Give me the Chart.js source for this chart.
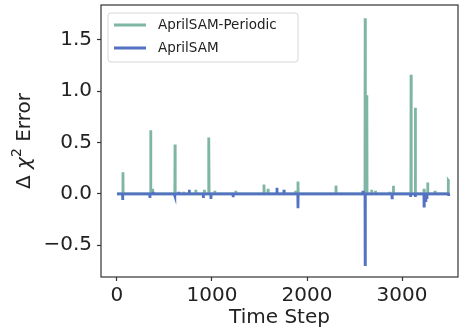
<!DOCTYPE html>
<html>
<head>
<meta charset="utf-8">
<script src="https://cdn.jsdelivr.net/npm/chart.js@4"></script>
<style>
  html, body { margin: 0; padding: 0; background: #fff; }
  #wrap { width: 459px; height: 335px; }
</style>
</head>
<body>
<div id="wrap"><canvas id="errorChart"></canvas></div>
<script>
// Delta chi^2 error per time step

// AprilSAM-Periodic (green) - one row per spike
const periodicSteps = [
  0,
  61, 63, 65,
  353, 355, 357,
  373, 375, 377,
  609, 611, 613,
  698, 700, 702,
  828, 830, 832,
  918, 920, 922,
  962, 964, 966, 968, 970,
  1028, 1030, 1032,
  1248, 1250, 1252,
  1545, 1547, 1549,
  1588, 1590, 1592,
  1878, 1880, 1882,
  1903, 1905, 1907,
  2303, 2305, 2307,
  2588, 2590, 2592,
  2610, 2612, 2614,
  2628, 2630, 2632,
  2678, 2680, 2682,
  2718, 2720, 2722,
  2868, 2870, 2872,
  2907, 2909, 2911,
  3093, 3095, 3097,
  3138, 3140, 3142,
  3230, 3232, 3234,
  3268, 3270, 3272,
  3345, 3347, 3349,
  3485, 3487, 3495
];
const periodicValues = [
  0,
  0, 0.21, 0,
  0, 0.62, 0,
  0, 0.05, 0,
  0, 0.48, 0,
  0, 0.02, 0,
  0, 0.04, 0,
  0, 0.04, 0,
  0, 0.28, 0, 0.55, 0,
  0, 0.03, 0,
  0, 0.03, 0,
  0, 0.09, 0,
  0, 0.05, 0,
  0, 0.03, 0,
  0, 0.12, 0,
  0, 0.08, 0,
  0, 0.02, 0,
  0, 1.71, 0,
  0, 0.96, 0,
  0, 0.04, 0,
  0, 0.03, 0,
  0, 0.02, 0,
  0, 0.08, 0,
  0, 1.16, 0,
  0, 0.84, 0,
  0, 0.05, 0,
  0, 0.11, 0,
  0, 0.03, 0,
  0, 0.13, 0.12
];

// AprilSAM (blue)
const aprilSteps = [
  0,
  58, 60, 62,
  78, 80, 82,
  345, 347, 349,
  378, 380, 382,
  598, 600, 602,
  608, 610, 612,
  648, 650, 652,
  759, 761, 763,
  907, 909, 911,
  987, 989, 991,
  1220, 1222, 1224,
  1682, 1684, 1686,
  1756, 1758, 1760,
  1903, 1905, 1907,
  2588, 2590, 2592,
  2610, 2612, 2614,
  2893, 2895, 2897,
  3088, 3090, 3092,
  3138, 3140, 3142,
  3230, 3232, 3234,
  3248, 3250, 3252,
  3260, 3262, 3264,
  3488, 3490, 3492,
  3495
];
const aprilValues = [
  0,
  0, -0.06, 0,
  0, 0.01, 0,
  0, -0.04, 0,
  0, 0.02, 0,
  0, 0.01, 0,
  0, -0.02, 0,
  0, 0.02, 0,
  0, 0.04, 0,
  0, -0.04, 0,
  0, -0.05, 0,
  0, -0.02, 0,
  0, 0.06, 0,
  0, 0.04, 0,
  0, -0.14, 0,
  0, 0.03, 0,
  0, -0.69, 0,
  0, -0.04, 0,
  0, -0.03, 0,
  0, -0.03, 0,
  0, -0.12, 0,
  0, -0.08, 0,
  0, -0.05, 0,
  0, -0.02, 0,
  0
];

const seriesLabels = ['AprilSAM-Periodic', 'AprilSAM'];
const seriesColors = ['#7fb5a5', '#5472c4'];
const xTicks = [0, 1000, 2000, 3000];
const yTicks = [-0.5, 0.0, 0.5, 1.0, 1.5];

const FONT = "'DejaVu Sans', sans-serif";

function toPoints(steps, values) {
  return steps.map((s, i) => ({ x: s, y: values[i] }));
}

// y title with italic chi and superscript 2, drawn by hand
function drawYTitle(ctx, chartArea) {
  const parts = [
    { text: 'Δ ', font: '20px ' + FONT, rise: 0 },
    { text: 'χ', font: 'italic 20px ' + FONT, rise: 0 },
    { text: '2', font: '14px ' + FONT, rise: -8 },
    { text: ' Error', font: '20px ' + FONT, rise: 0 }
  ];
  let total = 0;
  parts.forEach(p => { ctx.font = p.font; p.w = ctx.measureText(p.text).width; total += p.w; });
  ctx.save();
  ctx.translate(25, (chartArea.top + chartArea.bottom) / 2);
  ctx.rotate(-Math.PI / 2);
  ctx.fillStyle = '#222';
  ctx.textBaseline = 'middle';
  let x = -total / 2;
  parts.forEach(p => {
    ctx.font = p.font;
    ctx.fillText(p.text, x, p.rise);
    x += p.w;
  });
  ctx.restore();
}

// frame around the plot area plus legend box inside it
const framePlugin = {
  id: 'frameAndLegend',
  afterDraw(chart) {
    const { ctx, chartArea } = chart;
    ctx.save();
    ctx.strokeStyle = '#333';
    ctx.lineWidth = 1.2;
    ctx.strokeRect(chartArea.left, chartArea.top, chartArea.right - chartArea.left, chartArea.bottom - chartArea.top);

    // legend
    const bx = chartArea.left + 7, by = chartArea.top + 8, bw = 190, bh = 49;
    ctx.beginPath();
    ctx.roundRect(bx, by, bw, bh, 3);
    ctx.fillStyle = 'rgba(255,255,255,0.8)';
    ctx.fill();
    ctx.strokeStyle = '#d6d6d6';
    ctx.lineWidth = 1;
    ctx.stroke();

    ctx.font = '13.5px ' + FONT;
    ctx.textBaseline = 'middle';
    seriesLabels.forEach((label, i) => {
      const y = by + 12 + i * 23;
      ctx.beginPath();
      ctx.moveTo(bx + 6, y);
      ctx.lineTo(bx + 38, y);
      ctx.strokeStyle = seriesColors[i];
      ctx.lineWidth = 3;
      ctx.stroke();
      ctx.fillStyle = '#222';
      ctx.fillText(label, bx + 50, y);
    });
    ctx.restore();

    drawYTitle(ctx, chartArea);
  }
};

const chartConfig = {
  type: 'line',
  data: {
    datasets: [
      {
        label: seriesLabels[0],
        data: toPoints(periodicSteps, periodicValues),
        borderColor: seriesColors[0],
        borderWidth: 2.8,
        pointRadius: 0,
        tension: 0,
        fill: false,
        order: 2
      },
      {
        label: seriesLabels[1],
        data: toPoints(aprilSteps, aprilValues),
        borderColor: seriesColors[1],
        borderWidth: 2.8,
        pointRadius: 0,
        tension: 0,
        fill: false,
        order: 1
      }
    ]
  },
  options: {
    responsive: false,
    animation: false,
    devicePixelRatio: 1,
    layout: { padding: { left: 0, right: 1, top: 5, bottom: 0 } },
    plugins: {
      legend: { display: false },
      tooltip: { enabled: false }
    },
    scales: {
      x: {
        type: 'linear',
        min: -168,
        max: 3589,
        afterFit: (scale) => {
          scale.height = 58;
          scale.paddingLeft = 0;
          scale.paddingRight = 0;
        },
        afterBuildTicks: (scale) => { scale.ticks = xTicks.map(v => ({ value: v })); },
        grid: { drawOnChartArea: false, drawTicks: true, tickLength: 4, tickColor: '#333', tickWidth: 1.2 },
        border: { display: false },
        ticks: {
          color: '#222',
          padding: 3,
          maxRotation: 0,
          font: { family: FONT, size: 20 },
          callback: (v) => String(v)
        },
        title: {
          display: true,
          text: 'Time Step',
          color: '#222',
          padding: { top: 0, bottom: 5 },
          font: { family: FONT, size: 20 }
        }
      },
      y: {
        type: 'linear',
        min: -0.81,
        max: 1.84,
        afterFit: (scale) => {
          scale.width = 101;
          scale.paddingTop = 0;
          scale.paddingBottom = 0;
        },
        afterBuildTicks: (scale) => { scale.ticks = yTicks.map(v => ({ value: v })); },
        grid: { drawOnChartArea: false, drawTicks: true, tickLength: 4, tickColor: '#333', tickWidth: 1.2 },
        border: { display: false },
        ticks: {
          color: '#222',
          padding: 5,
          font: { family: FONT, size: 20 },
          callback: (v) => v.toFixed(1).replace('-', '\u2212')
        },
        title: { display: false }
      }
    }
  },
  plugins: [framePlugin]
};

const canvas = document.getElementById('errorChart');
canvas.width = 459;
canvas.height = 335;
new Chart(canvas, chartConfig);
</script>
</body>
</html>
